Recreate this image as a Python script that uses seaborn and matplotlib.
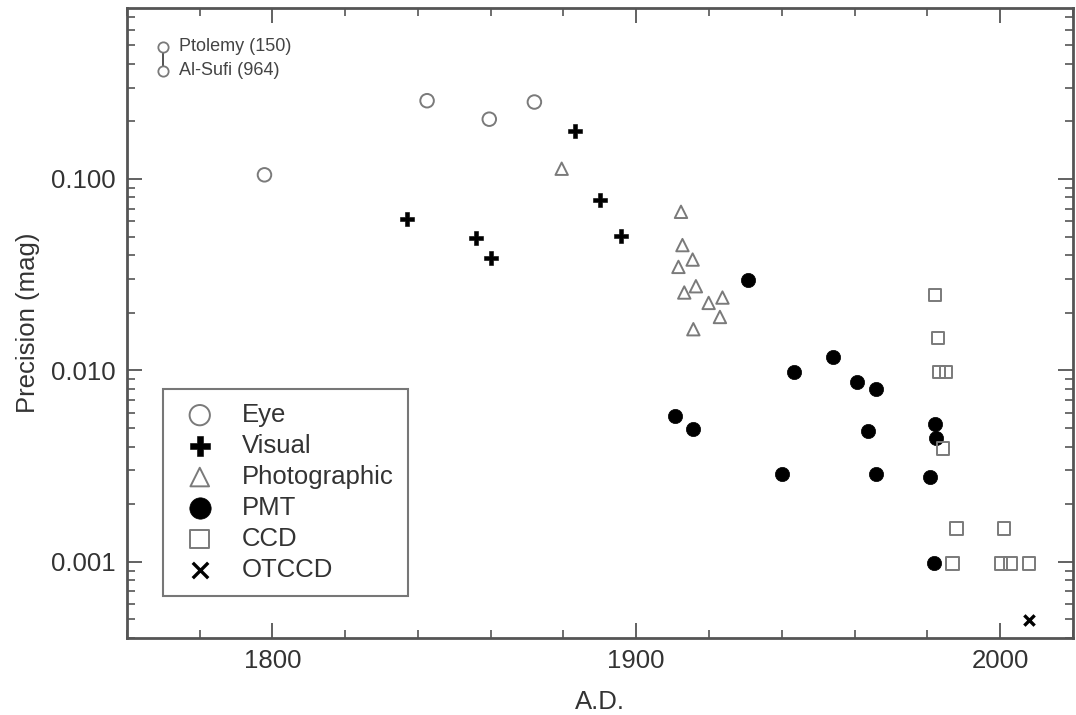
"""Photometric precision vs. year (log scale)"""
import matplotlib
matplotlib.use("Agg")
import numpy as np
import pandas as pd
import matplotlib.pyplot as plt
import matplotlib.ticker as mticker
import seaborn as sns

# ---- data ----
eye_year = [1797.8, 1842.5, 1859.6, 1872.0]
eye_prec = [0.105, 0.256, 0.205, 0.252]

visual_year = [1836.9, 1856.0, 1860.1, 1883.2, 1890.1, 1895.7]
visual_prec = [0.0614, 0.0489, 0.0387, 0.178, 0.078, 0.0505]

photo_year = [1879.5, 1912.3, 1912.7, 1915.5, 1911.6, 1916.4,
              1913.2, 1923.7, 1919.9, 1923.0, 1915.7]
photo_prec = [0.113, 0.0673, 0.0451, 0.0379, 0.0347, 0.0275,
              0.0255, 0.0240, 0.0225, 0.0190, 0.0164]

pmt_year = [1910.7, 1915.5, 1930.8, 1940.0, 1943.4, 1954.1, 1960.6,
            1963.8, 1965.9, 1966.0, 1980.7, 1982.1, 1982.5, 1981.9]
pmt_prec = [0.00577, 0.00491, 0.0298, 0.00289, 0.00982, 0.01176, 0.00865,
            0.00483, 0.00795, 0.00286, 0.00278, 0.00524, 0.00441, 0.00098]

ccd_year = [1982.1, 1983.0, 1983.2, 1985.1, 1984.4, 1988.0, 2001.1,
            1986.9, 2000.2, 2002.9, 2008.0]
ccd_prec = [0.0247, 0.0148, 0.0098, 0.0098, 0.0039, 0.00149, 0.00149,
            0.00098, 0.00098, 0.00098, 0.00098]

otccd_year = [2008.0]
otccd_prec = [0.000496]

ancient_year = [1769.9, 1769.9]
ancient_prec = [0.489, 0.366]
ancient_labels = ["Ptolemy (150)", "Al-Sufi (964)"]

GREY = "#7a7a7a"
DARK = "#333333"
SPINE = "#555555"
FS = 18.5

sns.set_style("ticks")
plt.rcParams["font.family"] = ["Liberation Sans", "DejaVu Sans"]

fig = plt.figure(figsize=(10.76, 7.15), dpi=100)
ax = fig.add_axes([0.118, 0.1077, 0.879, 0.881])

groups = [
    ("Eye", eye_year, eye_prec, dict(marker="o", s=95, facecolor="none",
                                     edgecolor=GREY, linewidth=1.4)),
    ("Visual", visual_year, visual_prec, dict(marker="P", s=95, facecolor="black",
                                              edgecolor="black", linewidth=0.4)),
    ("Photographic", photo_year, photo_prec, dict(marker="^", s=80, facecolor="none",
                                                  edgecolor=GREY, linewidth=1.4)),
    ("PMT", pmt_year, pmt_prec, dict(marker="o", s=105, facecolor="black",
                                     edgecolor="black", linewidth=0.5)),
    ("CCD", ccd_year, ccd_prec, dict(marker="s", s=80, facecolor="none",
                                     edgecolor=GREY, linewidth=1.4)),
    ("OTCCD", otccd_year, otccd_prec, dict(marker="x", s=55, color="black",
                                           linewidth=2.4)),
]

for name, xs, ys, kw in groups:
    df = pd.DataFrame({"year": xs, "prec": ys})
    if name == "OTCCD":
        ax.scatter(df["year"], df["prec"], label=name, zorder=3, **kw)
    else:
        sns.scatterplot(data=df, x="year", y="prec", ax=ax, label=name, zorder=3,
                        legend=False, **kw)

# ancient catalogues (Ptolemy / Al-Sufi)
anc = pd.DataFrame({"year": ancient_year, "prec": ancient_prec})
ax.plot(anc["year"], anc["prec"], color="#444444", linewidth=1.3, zorder=2)
sns.scatterplot(data=anc, x="year", y="prec", ax=ax, marker="o", s=55,
                facecolor="white", edgecolor=GREY, linewidth=1.3, zorder=3,
                legend=False)
for yr, pr, lab in zip(ancient_year, ancient_prec, ancient_labels):
    ax.text(yr + 4.5, pr, lab, fontsize=13, color="#444444",
            va="center", ha="left")

ax.set_yscale("log")
ax.set_xlim(1760, 2020)
ax.set_ylim(4.0e-4, 0.78)

ax.xaxis.set_major_locator(mticker.MultipleLocator(100))
ax.xaxis.set_minor_locator(mticker.MultipleLocator(20))
ax.yaxis.set_major_locator(mticker.LogLocator(base=10))
ax.yaxis.set_minor_locator(mticker.LogLocator(base=10, subs=np.arange(2, 10)))
ax.yaxis.set_major_formatter(mticker.FuncFormatter(lambda v, _: f"{v:.3f}"))
ax.yaxis.set_minor_formatter(mticker.NullFormatter())

ax.tick_params(which="both", direction="in", top=True, right=True,
               color=SPINE, labelcolor=DARK, labelsize=FS)
ax.tick_params(which="major", length=11, width=1.3, pad=8)
ax.tick_params(which="minor", length=6, width=1.2)
for sp in ax.spines.values():
    sp.set_color(SPINE)
    sp.set_linewidth(2)

ax.set_xlabel("A.D.", fontsize=FS, color=DARK)
ax.set_ylabel("Precision (mag)", fontsize=FS, color=DARK)
ax.xaxis.set_label_coords(0.5, -0.082)
ax.yaxis.set_label_coords(-0.092, 0.5)

handles, labels = ax.get_legend_handles_labels()
leg = ax.legend(handles, labels, loc="lower left", bbox_to_anchor=(0.0377, 0.0671),
                borderaxespad=0, fontsize=FS, markerscale=1.5, frameon=True,
                fancybox=False, edgecolor=SPINE, borderpad=0.55, labelspacing=0.27,
                handlelength=1.79, handletextpad=0.74)
leg.get_frame().set_linewidth(1.5)
for t in leg.get_texts():
    t.set_color(DARK)

fig.savefig("out.png", dpi=100)
plt.close(fig)
